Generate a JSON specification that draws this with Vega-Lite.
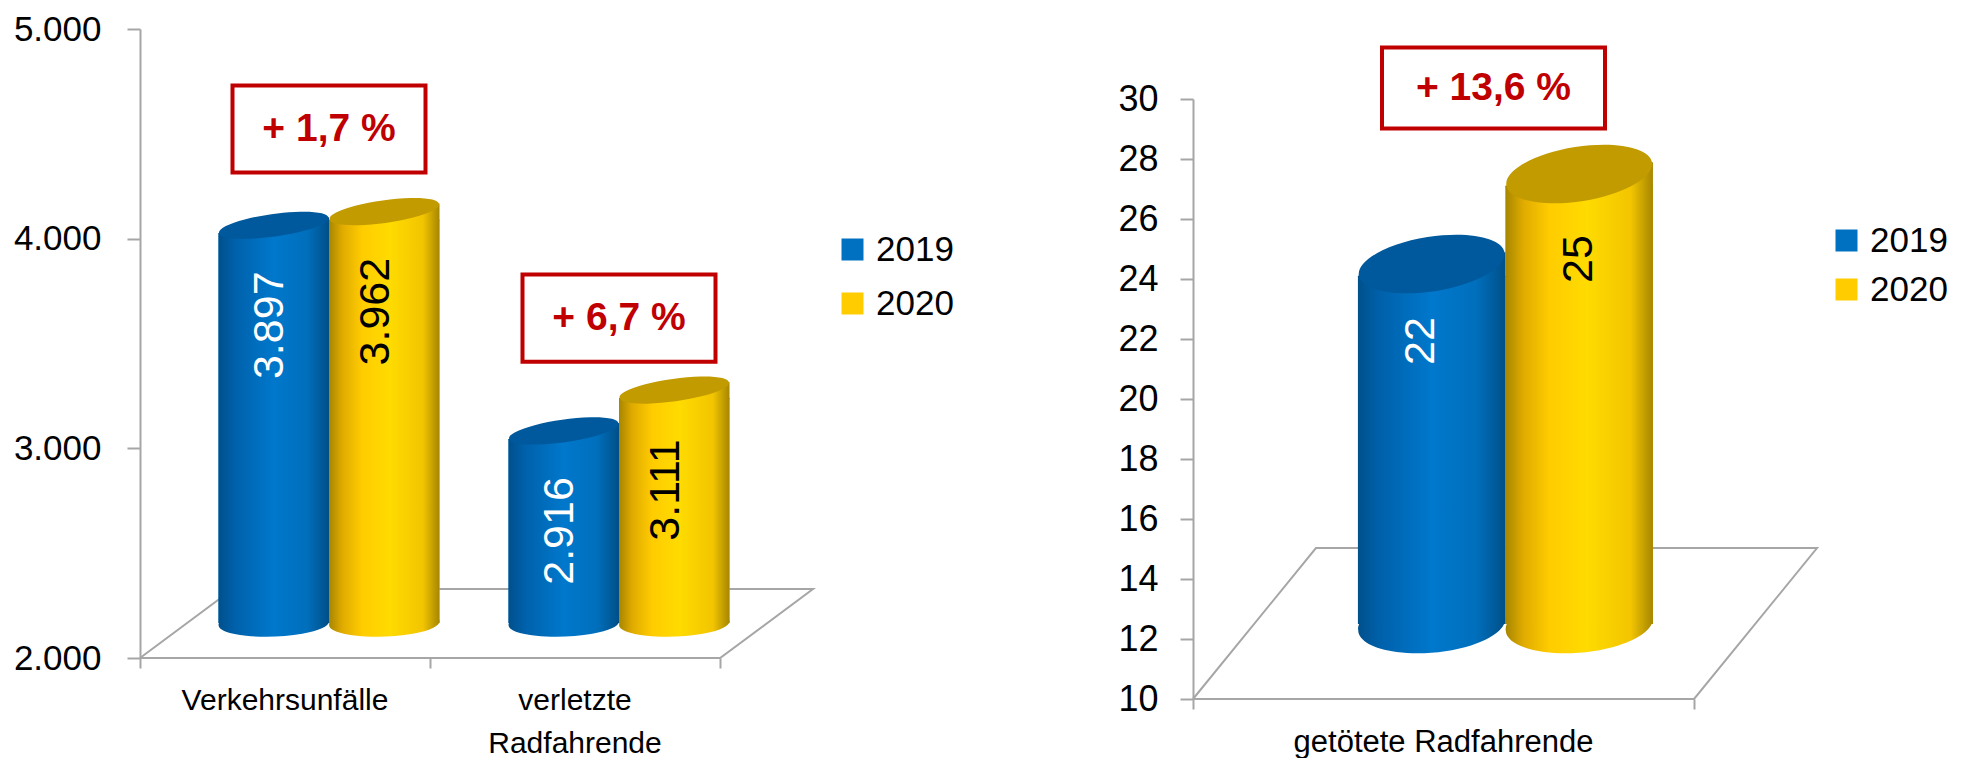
{"$schema":"https://vega.github.io/schema/vega-lite/v6.json","background":"white","padding":{"left":13,"top":12,"right":0,"bottom":0},"spacing":53,"bounds":"flush","resolve":{"scale":{"xOffset":"independent","color":"independent"},"legend":{"color":"independent"}},"config":{"view":{"stroke":null},"font":"Liberation Sans","axis":{"grid":false,"title":null,"domainColor":"#a6a6a6","tickColor":"#a6a6a6","domainWidth":2,"tickWidth":2,"labelColor":"#000000"},"legend":{"title":null,"orient":"none","symbolType":"square","symbolSize":484,"symbolStrokeWidth":0,"labelFontSize":35,"labelFont":"Liberation Sans","labelColor":"#000000","padding":0,"labelOffset":6}},"datasets":{"left":[{"kategorie":"Verkehrsunfälle","jahr":"2019","wert":3897,"label":"3.897"},{"kategorie":"Verkehrsunfälle","jahr":"2020","wert":3962,"label":"3.962"},{"kategorie":"verletzte Radfahrende","jahr":"2019","wert":2916,"label":"2.916"},{"kategorie":"verletzte Radfahrende","jahr":"2020","wert":3111,"label":"3.111"}],"right":[{"kategorie":"getötete Radfahrende","jahr":"2019","wert":22,"label":"22"},{"kategorie":"getötete Radfahrende","jahr":"2020","wert":25,"label":"25"}]},"hconcat":[{"width":1000,"height":629,"resolve":{"scale":{"x":"independent"}},"layer":[{"data":{"values":[{"fx":0,"fy":2000,"o":1},{"fx":0.138,"fy":2329,"o":2},{"fx":1,"fy":2329,"o":3},{"fx":0.862,"fy":2000,"o":4},{"fx":0,"fy":2000,"o":5}]},"mark":{"type":"line","color":"#a6a6a6","strokeWidth":2},"encoding":{"x":{"field":"fx","type":"quantitative","axis":{"values":[0,0.431,0.862],"labels":false,"domain":false,"tickSize":10},"scale":{"domain":[0,1],"range":[0,673]}},"y":{"field":"fy","type":"quantitative","scale":{"domain":[2000,5000],"range":[629,0]},"axis":{"values":[2000,3000,4000,5000],"labelFontSize":35,"labelPadding":26,"tickSize":13,"labelExpr":"replace(format(datum.value,','),',','.')"}},"order":{"field":"o"}}},{"data":{"name":"left"},"encoding":{"x":{"field":"kategorie","type":"nominal","sort":null,"scale":{"range":[0,580],"paddingInner":0.238,"paddingOuter":0.119},"axis":{"orient":"bottom","labelAngle":0,"labelFontSize":30,"labelLineHeight":43,"labelPadding":27,"labelLimit":500,"ticks":false,"domain":false,"labelExpr":"datum.label == 'verletzte Radfahrende' ? ['verletzte','Radfahrende'] : datum.label"}},"xOffset":{"field":"jahr","type":"nominal","scale":{"range":[44,265],"paddingInner":0,"paddingOuter":0}},"y":{"field":"wert","type":"quantitative","scale":{"domain":[2000,5000],"range":[629,0]},"axis":{"values":[2000,3000,4000,5000],"labelFontSize":35,"labelPadding":26,"tickSize":13,"labelExpr":"replace(format(datum.value,','),',','.')"}}},"layer":[{"mark":{"type":"bar","yOffset":-27,"y2Offset":-35},"encoding":{"y2":{"datum":2000},"color":{"field":"jahr","type":"nominal","scale":{"domain":["2019","2020"],"range":["#0070c0","#ffcc00"]},"legend":{"legendX":695,"legendY":203,"rowPadding":18}}}},{"transform":[{"filter":"datum.jahr=='2019'"}],"layer":[{"mark":{"type":"point","shape":"M-0.999,0.035A1,0.24,-2,1,1,0.999,-0.035A1,0.24,-2,1,1,-0.999,0.035Z","size":12210,"filled":true,"opacity":1,"yOffset":-35,"color":{"gradient":"linear","x1":0,"x2":1,"y1":0,"y2":0,"stops":[{"offset":0,"color":"#00508c"},{"offset":0.15,"color":"#0061ab"},{"offset":0.5,"color":"#0078cc"},{"offset":0.8,"color":"#006fbc"},{"offset":1,"color":"#004f88"}]}},"encoding":{"y":{"datum":2000}}},{"mark":{"type":"bar","yOffset":-27,"y2Offset":-35,"color":{"gradient":"linear","x1":0,"x2":1,"y1":0,"y2":0,"stops":[{"offset":0,"color":"#00508c"},{"offset":0.15,"color":"#0061ab"},{"offset":0.5,"color":"#0078cc"},{"offset":0.8,"color":"#006fbc"},{"offset":1,"color":"#004f88"}]}},"encoding":{"y2":{"datum":2000}}},{"mark":{"type":"point","shape":"M-1,0.145L1,-0.145V0.16H-1Z","size":12210,"filled":true,"opacity":1,"yOffset":-35,"color":{"gradient":"linear","x1":0,"x2":1,"y1":0,"y2":0,"stops":[{"offset":0,"color":"#00508c"},{"offset":0.15,"color":"#0061ab"},{"offset":0.5,"color":"#0078cc"},{"offset":0.8,"color":"#006fbc"},{"offset":1,"color":"#004f88"}]}}},{"mark":{"type":"point","shape":"M-0.99,0.139A1,0.2,-8,1,1,0.99,-0.139A1,0.2,-8,1,1,-0.99,0.139Z","size":12210,"filled":true,"opacity":1,"yOffset":-35,"color":"#00599c"}}]},{"transform":[{"filter":"datum.jahr=='2020'"}],"layer":[{"mark":{"type":"point","shape":"M-0.999,0.035A1,0.24,-2,1,1,0.999,-0.035A1,0.24,-2,1,1,-0.999,0.035Z","size":12210,"filled":true,"opacity":1,"yOffset":-35,"color":{"gradient":"linear","x1":0,"x2":1,"y1":0,"y2":0,"stops":[{"offset":0,"color":"#a68600"},{"offset":0.12,"color":"#e0ab00"},{"offset":0.3,"color":"#ffcc00"},{"offset":0.55,"color":"#ffdb00"},{"offset":0.85,"color":"#f2c500"},{"offset":1,"color":"#a68600"}]}},"encoding":{"y":{"datum":2000}}},{"mark":{"type":"bar","yOffset":-27,"y2Offset":-35,"color":{"gradient":"linear","x1":0,"x2":1,"y1":0,"y2":0,"stops":[{"offset":0,"color":"#a68600"},{"offset":0.12,"color":"#e0ab00"},{"offset":0.3,"color":"#ffcc00"},{"offset":0.55,"color":"#ffdb00"},{"offset":0.85,"color":"#f2c500"},{"offset":1,"color":"#a68600"}]}},"encoding":{"y2":{"datum":2000}}},{"mark":{"type":"point","shape":"M-1,0.145L1,-0.145V0.16H-1Z","size":12210,"filled":true,"opacity":1,"yOffset":-35,"color":{"gradient":"linear","x1":0,"x2":1,"y1":0,"y2":0,"stops":[{"offset":0,"color":"#a68600"},{"offset":0.12,"color":"#e0ab00"},{"offset":0.3,"color":"#ffcc00"},{"offset":0.55,"color":"#ffdb00"},{"offset":0.85,"color":"#f2c500"},{"offset":1,"color":"#a68600"}]}}},{"mark":{"type":"point","shape":"M-0.99,0.139A1,0.2,-8,1,1,0.99,-0.139A1,0.2,-8,1,1,-0.99,0.139Z","size":12210,"filled":true,"opacity":1,"yOffset":-35,"color":"#c29b00"}}]},{"transform":[{"filter":"datum.jahr=='2019'"}],"mark":{"type":"text","angle":270,"fontSize":43,"color":"white","dy":-4,"dx":-65,"baseline":"middle","align":"center"},"encoding":{"text":{"field":"label"}}},{"transform":[{"filter":"datum.jahr=='2020'"}],"mark":{"type":"text","angle":270,"fontSize":43,"color":"black","dy":-8,"dx":-65,"baseline":"middle","align":"center"},"encoding":{"text":{"field":"label"}}},{"data":{"values":[{"kategorie":"Verkehrsunfälle","pos":4523,"text":"+ 1,7 %"},{"kategorie":"verletzte Radfahrende","pos":3621,"text":"+ 6,7 %"}]},"encoding":{"xOffset":null,"y":{"field":"pos","type":"quantitative"}},"layer":[{"mark":{"type":"point","shape":"M-1,-0.451H1V0.451H-1Z","size":37249,"fill":"white","stroke":"#c00000","strokeWidth":4,"opacity":1,"xOffset":44}},{"mark":{"type":"text","fontSize":39,"fontWeight":"bold","color":"#c00000","xOffset":44,"baseline":"middle"},"encoding":{"text":{"field":"text"}}}]}]}]},{"width":775,"height":670,"resolve":{"scale":{"x":"independent"}},"layer":[{"data":{"values":[{"fx":0,"fy":10,"o":1},{"fx":0.197,"fy":15.03,"o":2},{"fx":1,"fy":15.03,"o":3},{"fx":0.803,"fy":10,"o":4},{"fx":0,"fy":10,"o":5}]},"mark":{"type":"line","color":"#a6a6a6","strokeWidth":2},"encoding":{"x":{"field":"fx","type":"quantitative","axis":{"values":[0,0.803],"labels":false,"domain":false,"tickSize":10},"scale":{"domain":[0,1],"range":[0,624]}},"y":{"field":"fy","type":"quantitative","scale":{"domain":[10,30],"range":[670,70]},"axis":{"values":[10,12,14,16,18,20,22,24,26,28,30],"labelFontSize":36,"labelPadding":22,"tickSize":13}},"order":{"field":"o"}}},{"data":{"name":"right"},"encoding":{"x":{"field":"kategorie","type":"nominal","sort":null,"scale":{"range":[0,501],"paddingInner":0.411,"paddingOuter":0.2055},"axis":{"orient":"bottom","labelAngle":0,"labelFontSize":31,"labelPadding":28,"labelLimit":500,"ticks":false,"domain":false}},"xOffset":{"field":"jahr","type":"nominal","scale":{"range":[62,357],"paddingInner":0,"paddingOuter":0}},"y":{"field":"wert","type":"quantitative","scale":{"domain":[10,30],"range":[670,70]},"axis":{"values":[10,12,14,16,18,20,22,24,26,28,30],"labelFontSize":36,"labelPadding":22,"tickSize":13}}},"layer":[{"mark":{"type":"bar","yOffset":-63,"y2Offset":-75},"encoding":{"y2":{"datum":10},"color":{"field":"jahr","type":"nominal","scale":{"domain":["2019","2020"],"range":["#0070c0","#ffcc00"]},"legend":{"legendX":636,"legendY":194,"rowPadding":13}}}},{"transform":[{"filter":"datum.jahr=='2019'"}],"layer":[{"mark":{"type":"point","shape":"M-0.996,0.087A1,0.38,-5,1,1,0.996,-0.087A1,0.38,-5,1,1,-0.996,0.087Z","size":21756,"filled":true,"opacity":1,"yOffset":-75,"color":{"gradient":"linear","x1":0,"x2":1,"y1":0,"y2":0,"stops":[{"offset":0,"color":"#00508c"},{"offset":0.15,"color":"#0061ab"},{"offset":0.5,"color":"#0078cc"},{"offset":0.8,"color":"#006fbc"},{"offset":1,"color":"#004f88"}]}},"encoding":{"y":{"datum":10}}},{"mark":{"type":"bar","yOffset":-63,"y2Offset":-75,"color":{"gradient":"linear","x1":0,"x2":1,"y1":0,"y2":0,"stops":[{"offset":0,"color":"#00508c"},{"offset":0.15,"color":"#0061ab"},{"offset":0.5,"color":"#0078cc"},{"offset":0.8,"color":"#006fbc"},{"offset":1,"color":"#004f88"}]}},"encoding":{"y2":{"datum":10}}},{"mark":{"type":"point","shape":"M-1,0.16L1,-0.16V0.18H-1Z","size":21756,"filled":true,"opacity":1,"yOffset":-75,"color":{"gradient":"linear","x1":0,"x2":1,"y1":0,"y2":0,"stops":[{"offset":0,"color":"#00508c"},{"offset":0.15,"color":"#0061ab"},{"offset":0.5,"color":"#0078cc"},{"offset":0.8,"color":"#006fbc"},{"offset":1,"color":"#004f88"}]}}},{"mark":{"type":"point","shape":"M-0.988,0.156A1,0.37,-9,1,1,0.988,-0.156A1,0.37,-9,1,1,-0.988,0.156Z","size":21756,"filled":true,"opacity":1,"yOffset":-75,"color":"#00599c"}}]},{"transform":[{"filter":"datum.jahr=='2020'"}],"layer":[{"mark":{"type":"point","shape":"M-0.996,0.087A1,0.38,-5,1,1,0.996,-0.087A1,0.38,-5,1,1,-0.996,0.087Z","size":21756,"filled":true,"opacity":1,"yOffset":-75,"color":{"gradient":"linear","x1":0,"x2":1,"y1":0,"y2":0,"stops":[{"offset":0,"color":"#a68600"},{"offset":0.12,"color":"#e0ab00"},{"offset":0.3,"color":"#ffcc00"},{"offset":0.55,"color":"#ffdb00"},{"offset":0.85,"color":"#f2c500"},{"offset":1,"color":"#a68600"}]}},"encoding":{"y":{"datum":10}}},{"mark":{"type":"bar","yOffset":-63,"y2Offset":-75,"color":{"gradient":"linear","x1":0,"x2":1,"y1":0,"y2":0,"stops":[{"offset":0,"color":"#a68600"},{"offset":0.12,"color":"#e0ab00"},{"offset":0.3,"color":"#ffcc00"},{"offset":0.55,"color":"#ffdb00"},{"offset":0.85,"color":"#f2c500"},{"offset":1,"color":"#a68600"}]}},"encoding":{"y2":{"datum":10}}},{"mark":{"type":"point","shape":"M-1,0.16L1,-0.16V0.18H-1Z","size":21756,"filled":true,"opacity":1,"yOffset":-75,"color":{"gradient":"linear","x1":0,"x2":1,"y1":0,"y2":0,"stops":[{"offset":0,"color":"#a68600"},{"offset":0.12,"color":"#e0ab00"},{"offset":0.3,"color":"#ffcc00"},{"offset":0.55,"color":"#ffdb00"},{"offset":0.85,"color":"#f2c500"},{"offset":1,"color":"#a68600"}]}}},{"mark":{"type":"point","shape":"M-0.988,0.156A1,0.37,-9,1,1,0.988,-0.156A1,0.37,-9,1,1,-0.988,0.156Z","size":21756,"filled":true,"opacity":1,"yOffset":-75,"color":"#c29b00"}}]},{"transform":[{"filter":"datum.jahr=='2019'"}],"mark":{"type":"text","angle":270,"fontSize":43,"color":"white","dy":-11,"dx":-2,"baseline":"middle","align":"center"},"encoding":{"text":{"field":"label"}}},{"transform":[{"filter":"datum.jahr=='2020'"}],"mark":{"type":"text","angle":270,"fontSize":43,"color":"black","dy":0,"dx":-10,"baseline":"middle","align":"center"},"encoding":{"text":{"field":"label"}}},{"data":{"values":[{"kategorie":"getötete Radfahrende","pos":30.37,"text":"+ 13,6 %"}]},"encoding":{"xOffset":null,"y":{"field":"pos","type":"quantitative"}},"layer":[{"mark":{"type":"point","shape":"M-1,-0.363H1V0.363H-1Z","size":49729,"fill":"white","stroke":"#c00000","strokeWidth":4,"opacity":1,"xOffset":50}},{"mark":{"type":"text","fontSize":39,"fontWeight":"bold","color":"#c00000","xOffset":50,"baseline":"middle"},"encoding":{"text":{"field":"text"}}}]}]}]}]}
